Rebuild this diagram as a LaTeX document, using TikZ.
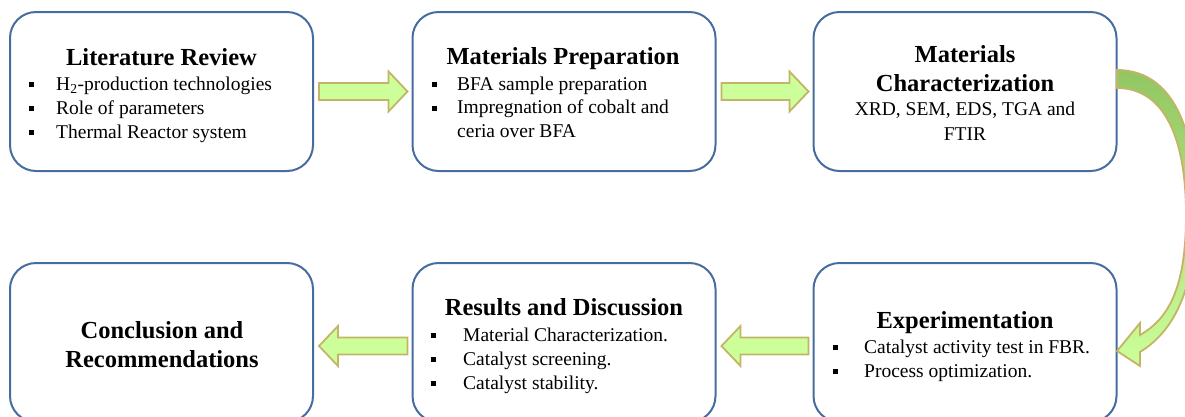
\documentclass[tikz,border=0pt]{standalone}
\usepackage{fontspec}
\setmainfont{Liberation Serif}
\usetikzlibrary{calc}
\definecolor{boxblue}{RGB}{70,108,160}
\definecolor{arrowfill}{RGB}{204,255,153}
\definecolor{arrowline}{RGB}{196,180,104}
\definecolor{arrowdark}{RGB}{146,198,98}
\tikzset{
 stagebox/.style={draw=boxblue, line width=2pt, rounded corners=26pt, minimum width=303pt, minimum height=159pt, inner sep=0pt, fill=white},
 ttl/.style={font=\fontsize{24.5}{28}\selectfont\bfseries, inner sep=0pt, anchor=base},
 txt/.style={font=\fontsize{19.5}{23}\selectfont, inner sep=0pt, anchor=base west},
 ctxt/.style={font=\fontsize{19.5}{23}\selectfont, inner sep=0pt, anchor=base},
 bul/.style={inner sep=0pt, fill=black, minimum size=5pt},
 fatarrow/.style={draw=arrowline, line width=1.8pt, fill=arrowfill, line join=miter},
 curvearrow/.style={draw=arrowline, line width=1.8pt, top color=arrowdark, bottom color=arrowfill, line join=miter},
}
\newcommand\rfat[2]{\draw[fatarrow] ($(#1)+(0,-8.5)$) -- ($(#2)+(-19,-8.5)$) -- ($(#2)+(-19,-20)$) -- (#2) -- ($(#2)+(-19,20)$) -- ($(#2)+(-19,8.5)$) -- ($(#1)+(0,8.5)$) -- cycle;}
\newcommand\lfat[2]{\draw[fatarrow] ($(#1)+(0,-8.5)$) -- ($(#2)+(19,-8.5)$) -- ($(#2)+(19,-20)$) -- (#2) -- ($(#2)+(19,20)$) -- ($(#2)+(19,8.5)$) -- ($(#1)+(0,8.5)$) -- cycle;}
\begin{document}
\begin{tikzpicture}[x=1pt,y=-1pt]
\useasboundingbox (0,0) rectangle (1185,416);
\clip (0,0) rectangle (1185,416);
% boxes
\node[stagebox] (b1) at (161.5,91.5) {};
\node[stagebox] (b2) at (564,91.5) {};
\node[stagebox] (b3) at (965,91.5) {};
\node[stagebox] (b4) at (161.5,342.5) {};
\node[stagebox] (b5) at (564,342.5) {};
\node[stagebox] (b6) at (965,342.5) {};
% box 1
\node[ttl] (t1) at (161.5,65) {Literature Review};
\node[bul] (p11) at (31.3,84.5) {};
\node[bul] (p12) at (31.3,108.5) {};
\node[bul] (p13) at (31.3,132.5) {};
\node[txt] (l11) at (56,90) {H\textsubscript{2}-production technologies};
\node[txt] (l12) at (56,114) {Role of parameters};
\node[txt] (l13) at (56,138) {Thermal Reactor system};
% box 2
\node[ttl] (t2) at (563,64) {Materials Preparation};
\node[bul] (p21) at (434,84.5) {};
\node[bul] (p22) at (434,108) {};
\node[txt] (l21) at (457,90) {BFA sample preparation};
\node[txt] (l22) at (457,113.5) {Impregnation of cobalt and};
\node[txt] (l23) at (457,137) {ceria over BFA};
% box 3
\node[ttl] (t31) at (965,62) {Materials};
\node[ttl] (t32) at (965,91) {Characterization};
\node[ctxt] (l31) at (965,115) {XRD, SEM, EDS, TGA and};
\node[ctxt] (l32) at (965,140) {FTIR};
% box 4
\node[ttl] (t41) at (162,338) {Conclusion and};
\node[ttl] (t42) at (162,367) {Recommendations};
% box 5
\node[ttl] (t5) at (564,315) {Results and Discussion};
\node[bul] (p51) at (433.5,335.5) {};
\node[bul] (p52) at (433.5,359.5) {};
\node[bul] (p53) at (433.5,383.5) {};
\node[txt] (l51) at (463,341) {Material Characterization.};
\node[txt] (l52) at (463,365) {Catalyst screening.};
\node[txt] (l53) at (463,389) {Catalyst stability.};
% box 6
\node[ttl] (t6) at (965,328) {Experimentation};
\node[bul] (p61) at (835,347.5) {};
\node[bul] (p62) at (835,371.5) {};
\node[txt] (l61) at (864,353) {Catalyst activity test in FBR.};
\node[txt] (l62) at (864,377) {Process optimization.};
% straight arrows
\coordinate (a1s) at ($(b1.east)+(5,0)$);
\coordinate (a1e) at ($(b2.west)+(-4,0)$);
\coordinate (a2s) at ($(b2.east)+(5,0)$);
\coordinate (a2e) at ($(b3.west)+(-4,0)$);
\coordinate (a3s) at ($(b6.west)+(-4,3.5)$);
\coordinate (a3e) at ($(b5.east)+(5,3.5)$);
\coordinate (a4s) at ($(b5.west)+(-4,3.5)$);
\coordinate (a4e) at ($(b4.east)+(5,3.5)$);
\rfat{a1s}{a1e}
\rfat{a2s}{a2e}
\lfat{a3s}{a3e}
\lfat{a4s}{a4e}
% curved arrow from box 3 to box 6
\draw[curvearrow] (1117,70) .. controls (1168,70) and (1196,120) .. (1196,210)
  .. controls (1196,285) and (1176,330) .. (1140,352) -- (1140,366) -- (1117,351)
  -- (1140,323) -- (1140,335) .. controls (1170,318) and (1186,285) .. (1186,215)
  .. controls (1186,130) and (1160,88) .. (1117,88) -- cycle;
\end{tikzpicture}
\end{document}
